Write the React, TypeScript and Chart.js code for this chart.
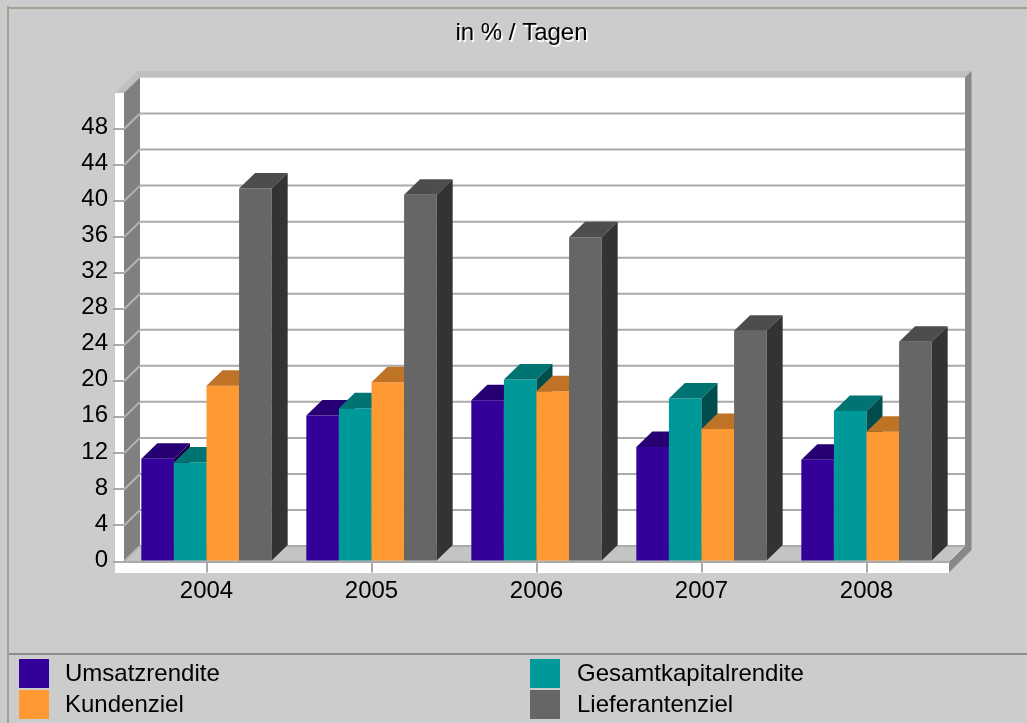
import React, { useEffect, useRef } from "react";
import { Chart, registerables } from "chart.js";

Chart.register(...registerables);

const years = ["2004", "2005", "2006", "2007", "2008"];
const umsatzrendite = [11.4, 16.2, 17.9, 12.7, 11.3];
const gesamtkapitalrendite = [11.0, 17.0, 20.2, 18.1, 16.7];
const kundenziel = [19.5, 19.9, 18.9, 14.7, 14.4];
const lieferantenziel = [41.4, 40.7, 36.0, 25.6, 24.4];
const yTicks = [0, 4, 8, 12, 16, 20, 24, 28, 32, 36, 40, 44, 48];
const titleText = "in % / Tagen";

const PURPLE = "#330099";
const TEAL = "#009999";
const ORANGE = "#ff9933";
const GRAY = "#666666";
const FONT = '"Liberation Sans", Arial, sans-serif';
const DX = 16;
const DY = 15.5;

function shade(hex: string, f: number) {
  const n = parseInt(hex.slice(1), 16);
  const r = Math.round(((n >> 16) & 255) * f);
  const g = Math.round(((n >> 8) & 255) * f);
  const b = Math.round((n & 255) * f);
  return `rgb(${r},${g},${b})`;
}

function poly(ctx: CanvasRenderingContext2D, pts: number[][], fill: string) {
  ctx.beginPath();
  pts.forEach((p, i) => (i ? ctx.lineTo(p[0], p[1]) : ctx.moveTo(p[0], p[1])));
  ctx.closePath();
  ctx.fillStyle = fill;
  ctx.fill();
}

const framePlugin = {
  id: "frame3d",
  beforeDraw(chart: any) {
    const { ctx, chartArea: a, scales } = chart;
    const w = chart.width;
    const h = chart.height;
    const L = a.left;
    const R = a.right;
    const T = a.top;
    const B = a.bottom;
    ctx.save();
    // panel
    ctx.fillStyle = "#cccccc";
    ctx.fillRect(0, 0, w, h);
    ctx.fillStyle = "#a5a294";
    ctx.fillRect(7, 7, w - 7, 2);
    ctx.fillRect(7, 6, 2, h - 6);
    ctx.fillStyle = "#8c8c8c";
    ctx.fillRect(9, 653, w - 9, 2);

    // outer front strip
    ctx.fillStyle = "#ffffff";
    ctx.fillRect(L - 9, T, 9, B + 11.5 - T);
    ctx.fillRect(L - 9, B, R - L + 9, 11.5);
    // back wall
    ctx.fillRect(L + DX, T - DY, R - L, B - T);
    // top band
    poly(ctx, [[L - 9, T], [L, T], [L + DX, T - DY], [R + DX, T - DY], [R + DX + 6.5, T - 22], [L + 14, T - 22]], "#c0c0c0");
    // left wall
    poly(ctx, [[L, T], [L + DX, T - DY], [L + DX, B - DY], [L, B]], "#808080");
    // right wall
    poly(ctx, [[R + DX, T - DY], [R + DX + 6.5, T - 22], [R + DX + 6.5, B - 11.5], [R, B + 11], [R, B], [R + DX, B - DY]], "#888888");
    // floor
    poly(ctx, [[L, B], [L + DX, B - DY], [R + DX, B - DY], [R, B]], "#c4c4c4");

    // grid lines on the walls
    const y = scales.y;
    ctx.lineWidth = 2;
    yTicks.forEach((v) => {
      const py = y.getPixelForValue(v);
      ctx.strokeStyle = "#b4b4b4";
      ctx.beginPath();
      ctx.moveTo(L, py);
      ctx.lineTo(L + DX, py - DY);
      ctx.stroke();
      ctx.strokeStyle = "#aaaaaa";
      ctx.beginPath();
      ctx.moveTo(L + DX, py - DY);
      ctx.lineTo(R + DX, py - DY);
      ctx.stroke();
    });
    ctx.strokeStyle = "#dcdcdc";
    ctx.lineWidth = 1;
    ctx.beginPath();
    ctx.moveTo(R + DX - 3, B - DY + 2);
    ctx.lineTo(R + 2, B - 2);
    ctx.stroke();

    // title shadow
    const tb = chart.titleBlock;
    ctx.fillStyle = "#ffffff";
    ctx.font = `24px ${FONT}`;
    ctx.textAlign = "center";
    ctx.textBaseline = "middle";
    ctx.fillText(titleText, (tb.left + tb.right) / 2 + 1.5, 35);
    ctx.restore();
  },
  afterLayout(chart: any) {
    chart.titleBlock.left = 16;
    chart.titleBlock.right = 1027;
  },
  beforeDatasetsDraw(chart: any) {
    const { ctx } = chart;
    // painter's order: left series first, each later bar overlaps the previous one's side
    chart.data.datasets.forEach((ds: any, i: number) => {
      const meta = chart.getDatasetMeta(i);
      meta.controller.draw();
      ctx.save();
      meta.data.forEach((bar: any) => {
        const p = bar.getProps(["x", "y", "base", "width"], true);
        const l = p.x - p.width / 2;
        const r = p.x + p.width / 2;
        poly(ctx, [[l, p.y], [l + DX, p.y - DY], [r + DX, p.y - DY], [r, p.y]], shade(ds.backgroundColor, 0.75));
        poly(ctx, [[r, p.y], [r + DX, p.y - DY], [r + DX, p.base - DY], [r, p.base]], shade(ds.backgroundColor, 0.5));
      });
      ctx.restore();
    });
    return false;
  },
  afterDraw(chart: any) {
    const { ctx } = chart;
    const slots = [
      [19, 659, 65],
      [530, 659, 577],
      [19, 690, 65],
      [530, 690, 577],
    ];
    ctx.save();
    ctx.font = `24px ${FONT}`;
    ctx.textBaseline = "middle";
    ctx.textAlign = "left";
    chart.data.datasets.forEach((ds: any, i: number) => {
      const [sx, sy, tx] = slots[i];
      ctx.fillStyle = ds.backgroundColor;
      ctx.fillRect(sx, sy, 30, 29);
      ctx.fillStyle = "#000000";
      ctx.fillText(ds.label, tx, sy + 15);
    });
    ctx.restore();
  },
};

export default function App() {
  const ref = useRef<HTMLCanvasElement>(null);
  useEffect(() => {
    const chart = new Chart(ref.current as HTMLCanvasElement, {
      type: "bar",
      data: {
        labels: years,
        datasets: [
          { label: "Umsatzrendite", data: umsatzrendite, backgroundColor: PURPLE },
          { label: "Gesamtkapitalrendite", data: gesamtkapitalrendite, backgroundColor: TEAL },
          { label: "Kundenziel", data: kundenziel, backgroundColor: ORANGE },
          { label: "Lieferantenziel", data: lieferantenziel, backgroundColor: GRAY },
        ],
      },
      options: {
        animation: false,
        responsive: false,
        layout: { padding: { left: 0, top: 0, right: 78, bottom: 0 } },
        datasets: { bar: { categoryPercentage: 0.79, barPercentage: 1, borderWidth: 0 } },
        plugins: {
          legend: { display: false },
          tooltip: { enabled: false },
          title: {
            display: true,
            text: titleText,
            color: "#000000",
            font: { family: FONT, size: 24, weight: "normal" },
            padding: { top: 19, bottom: 45.2 },
          },
        },
        scales: {
          x: {
            grid: { offset: false, drawOnChartArea: false, drawTicks: true, tickLength: 11, color: "#aaaaaa", lineWidth: 2 },
            border: { display: true, color: "#aaaaaa", width: 2 },
            ticks: { color: "#000000", font: { family: FONT, size: 24 }, padding: 4, maxRotation: 0 },
            afterFit: (s: any) => {
              s.height = 161.5;
            },
          },
          y: {
            min: 0,
            max: 52,
            grid: { drawOnChartArea: false, drawTicks: true, tickLength: 11, color: "#aaaaaa", lineWidth: 2 },
            border: { display: false },
            ticks: { color: "#000000", font: { family: FONT, size: 24 }, padding: 5, labelOffset: -1.5 },
            afterBuildTicks: (s: any) => {
              s.ticks = yTicks.map((value) => ({ value }));
            },
            afterFit: (s: any) => {
              s.width = 124;
            },
          },
        },
      },
      plugins: [framePlugin],
    } as any);
    return () => chart.destroy();
  }, []);
  return (
    <canvas
      ref={ref}
      width={1027}
      height={723}
      style={{ position: "absolute", left: 0, top: 0, display: "block" }}
    />
  );
}
